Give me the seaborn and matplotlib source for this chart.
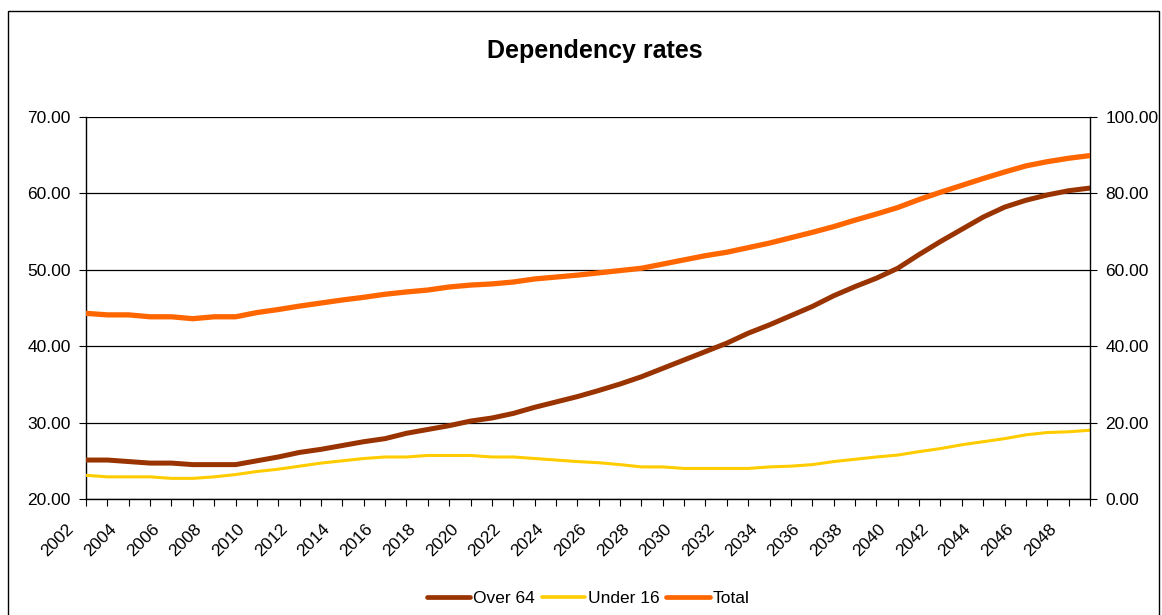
import matplotlib
matplotlib.use('Agg')
import matplotlib.pyplot as plt
import matplotlib.transforms as mtransforms
import seaborn as sns
import pandas as pd
from matplotlib.patches import Rectangle
from matplotlib.lines import Line2D

years = list(range(2002, 2050))
over_64 = [25.1, 25.1, 24.9, 24.7, 24.7, 24.5, 24.5, 24.5, 25.0, 25.5,
           26.1, 26.5, 27.0, 27.5, 27.9, 28.6, 29.1, 29.6, 30.2, 30.6,
           31.2, 32.0, 32.7, 33.4, 34.2, 35.05, 36.0, 37.1, 38.2, 39.3,
           40.4, 41.7, 42.8, 44.0, 45.2, 46.6, 47.8, 48.9, 50.2, 52.0,
           53.7, 55.3, 56.9, 58.2, 59.1, 59.8, 60.35, 60.7]
under_16 = [23.1, 22.9, 22.9, 22.9, 22.7, 22.7, 22.9, 23.2, 23.6, 23.9,
            24.3, 24.7, 25.0, 25.3, 25.5, 25.5, 25.7, 25.7, 25.7, 25.5,
            25.5, 25.3, 25.1, 24.9, 24.75, 24.5, 24.2, 24.2, 24.0, 24.0,
            24.0, 24.0, 24.2, 24.3, 24.5, 24.9, 25.2, 25.5, 25.75, 26.2,
            26.6, 27.1, 27.5, 27.9, 28.4, 28.7, 28.8, 29.0]
total = [48.6, 48.2, 48.2, 47.7, 47.7, 47.2, 47.7, 47.7, 48.8, 49.6,
         50.5, 51.3, 52.1, 52.8, 53.6, 54.2, 54.7, 55.5, 56.0, 56.3,
         56.8, 57.6, 58.1, 58.6, 59.2, 59.8, 60.4, 61.5, 62.6, 63.7,
         64.6, 65.8, 67.0, 68.4, 69.8, 71.3, 73.0, 74.6, 76.3, 78.4,
         80.3, 82.1, 83.9, 85.6, 87.2, 88.3, 89.2, 89.9]
left_ticks = [20, 30, 40, 50, 60, 70]
right_ticks = [0, 20, 40, 60, 80, 100]
series_names = ['Over 64', 'Under 16', 'Total']
series_colors = ['#993300', '#FFCC00', '#FF6600']
title = 'Dependency rates'

df = pd.DataFrame({'year': years, 'Over 64': over_64,
                   'Under 16': under_16, 'Total': total})

sns.set_style('white')
plt.rcParams['font.family'] = ['Liberation Sans', 'DejaVu Sans']
plt.rcParams['text.color'] = 'black'
plt.rcParams['axes.labelcolor'] = 'black'
plt.rcParams['xtick.color'] = 'black'
plt.rcParams['ytick.color'] = 'black'

W, H = 1162, 615
fig = plt.figure(figsize=(W / 100, H / 100), dpi=100)
ax = fig.add_axes([86 / W, 1 - 499 / H, (1090 - 86) / W, (499 - 117) / H])
ax2 = ax.twinx()

widths = [3.6, 2.2, 3.8]
sns.lineplot(data=df, x='year', y='Over 64', ax=ax, color=series_colors[0],
             lw=widths[0], solid_joinstyle='round', solid_capstyle='round', zorder=3)
sns.lineplot(data=df, x='year', y='Under 16', ax=ax, color=series_colors[1],
             lw=widths[1], solid_joinstyle='round', solid_capstyle='round', zorder=3)
sns.lineplot(data=df, x='year', y='Total', ax=ax2, color=series_colors[2],
             lw=widths[2], solid_joinstyle='round', solid_capstyle='round', zorder=3)

ax.set_xlim(years[0], years[-1])
ax.set_ylim(left_ticks[0], left_ticks[-1])
ax2.set_ylim(right_ticks[0], right_ticks[-1])
ax.set_yticks(left_ticks)
ax.set_yticklabels([f'{v:.2f}' for v in left_ticks])
ax2.set_yticks(right_ticks)
ax2.set_yticklabels([f'{v:.2f}' for v in right_ticks])
ax.set_xticks(years)
ax.set_xticklabels([str(y) if (y - years[0]) % 2 == 0 else '' for y in years],
                   rotation=45, ha='right', rotation_mode='anchor')

ax.set_xlabel('')
ax.set_ylabel('')
ax2.set_ylabel('')

ax.yaxis.grid(True, color='black', lw=0.9)
ax.xaxis.grid(False)
ax2.grid(False)
ax.set_axisbelow(True)

for s in ['top', 'right']:
    ax.spines[s].set_visible(False)
for s in ['left', 'bottom']:
    ax.spines[s].set_color('black')
    ax.spines[s].set_linewidth(1.0)
for s in ['top', 'left', 'bottom']:
    ax2.spines[s].set_visible(False)
ax2.spines['right'].set_color('black')
ax2.spines['right'].set_linewidth(1.0)

ax.tick_params(axis='x', bottom=True, direction='out', length=5, width=0.8,
               color='black', labelsize=12.5, labelcolor='black', pad=3)
ax.tick_params(axis='y', left=True, direction='out', length=5, width=0.8,
               color='black', labelsize=12.5, labelcolor='black', pad=6)
ax2.tick_params(axis='y', right=True, direction='out', length=5, width=0.8,
                color='black', labelsize=12.5, labelcolor='black', pad=6)

shift = mtransforms.ScaledTranslation(-20 / 100, -11 / 100, fig.dpi_scale_trans)
for lab in ax.get_xticklabels():
    lab.set_transform(lab.get_transform() + shift)

fig.text(595 / W, 1 - 58 / H, title, ha='center', va='baseline',
         fontsize=18, fontweight='bold', color='black')

handles = [Line2D([0], [0], color=c, lw=3.4 if i != 1 else 2.6)
           for i, c in enumerate(series_colors)]
fig.legend(handles, series_names, loc='center',
           bbox_to_anchor=(588 / W, 1 - 598 / H), ncol=3, frameon=False,
           fontsize=12.5, handlelength=2.5, handletextpad=0.15, columnspacing=0.4)

fig.add_artist(Rectangle((8 / W, -0.1), (1159 - 8) / W, 1.1 - 11 / H,
                         transform=fig.transFigure, fill=False,
                         edgecolor='black', lw=1.0))

fig.savefig('out.png', dpi=100)
